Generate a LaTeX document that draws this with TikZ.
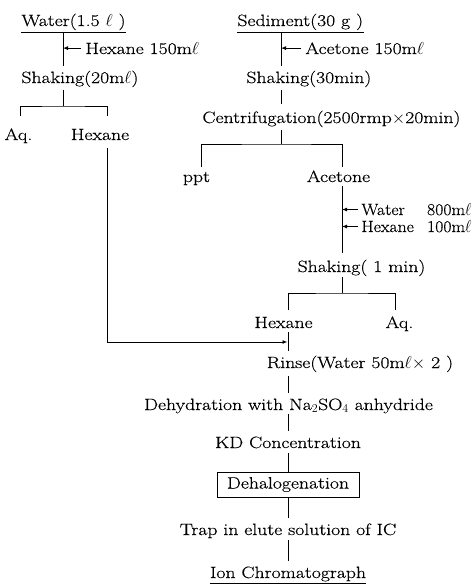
\documentclass[tikz,border=0pt]{standalone}
\usepackage{graphicx}
\usepackage{fontspec}
\setmainfont{Latin Modern Roman}[FakeStretch=1.2,FakeBold=0.4]
\usetikzlibrary{arrows.meta}
\newcommand{\narrowtext}[1]{\scalebox{0.9}[1]{#1}}
\begin{document}
\begin{tikzpicture}[x=1pt,y=-1pt,
  line width=0.9pt,
  every node/.style={inner sep=0pt,font=\fontsize{16.4}{19}\selectfont},
  lbl/.style={anchor=base west},
  ctr/.style={anchor=base},
  rgt/.style={anchor=base east},
  arr/.style={-{Latex[length=5pt,width=4pt]}},
  boxed/.style={draw,anchor=center,minimum width=142pt,minimum height=25pt}]
\useasboundingbox (0,0) rectangle (473,584);
% ---- left column
\node[lbl] (water) at (21,26) {Water(1.5 $\ell$ )};
\node[lbl] (hexA) at (85,54) {Hexane 150m$\ell$};
\node[lbl] (shakA) at (21,83) {Shaking(20m$\ell$)};
\node[ctr] (aqA) at (18.5,140) {Aq.};
\node[ctr] (hexL) at (100,140) {Hexane};
% ---- right column
\node[lbl] (sed) at (237,26) {Sediment(30 g )};
\node[lbl] (aceA) at (305,54) {Acetone 150m$\ell$};
\node[lbl] (shakB) at (246,83) {Shaking(30min)};
\node[lbl] (cent) at (202,123) {Centrifugation(2500rmp$\times$20min)};
\node[ctr] (ppt) at (196.5,182) {ppt};
\node[ctr] (acet) at (338.5,182) {Acetone};
\node[lbl] (watB) at (361,215) {\narrowtext{Water}};
\node[rgt] (wvol) at (472,215) {\narrowtext{800m$\ell$}};
\node[lbl] (hexB) at (361,232) {\narrowtext{Hexane}};
\node[rgt] (hvol) at (472,232) {\narrowtext{100m$\ell$}};
\node[ctr] (shakC) at (361.5,272) {Shaking( 1 min)};
\node[ctr] (hexR) at (283.5,328) {Hexane};
\node[ctr] (aqB) at (399.5,328) {Aq.};
% ---- main flow
\node[ctr] (rinse) at (360,368) {Rinse(Water 50m$\ell\times$ 2 )};
\node[ctr] (dehyd) at (288.5,410) {Dehydration with Na$_2$SO$_4$ anhydride};
\node[ctr] (kd) at (288,448) {KD Concentration};
\node[boxed] (dehal) at (288,484.5) {Dehalogenation};
\node[ctr] (trap) at (288,535) {Trap in elute solution of IC};
\node[ctr] (ion) at (288,578) {Ion Chromatograph};
% ---- coordinates
\coordinate (wtop) at (63,32);
\coordinate (wbot) at (63,66);
\coordinate (ls1) at (63,90);
\coordinate (lbr) at (63,106);
\coordinate (lbl1) at (20.7,116);
\coordinate (lbl2) at (107,116);
\coordinate (hlt) at (107,148);
\coordinate (jn) at (287.5,342);
\coordinate (stop) at (281,32);
\coordinate (sbot) at (281,66);
\coordinate (s2a) at (281,90);
\coordinate (s2b) at (281,104);
\coordinate (c1) at (281,130);
\coordinate (cbr) at (281,144);
\coordinate (cl) at (201,167);
\coordinate (cr) at (342,167);
\coordinate (at1) at (342,186);
\coordinate (at2) at (342,253);
\coordinate (sh1) at (342,277);
\coordinate (sbr) at (342,293);
\coordinate (hl1) at (288,310);
\coordinate (hr1) at (395,310);
\coordinate (m1) at (288,332);
\coordinate (m2) at (288,351);
\coordinate (m3) at (288,376);
\coordinate (m4) at (288,393);
\coordinate (m5) at (288,414);
\coordinate (m6) at (288,431);
\coordinate (m7) at (288,453);
\coordinate (m8) at (288,518);
\coordinate (m9) at (288,540);
\coordinate (m10) at (288,561);
% underlines
\draw ([yshift=-6pt]water.base west) -- ([yshift=-6pt]water.base east);
\draw ([yshift=-6pt]sed.base west) -- ([yshift=-6pt]sed.base east);
\draw ([yshift=-5pt]ion.base west) -- ([yshift=-5pt]ion.base east);
% left column connectors
\draw (wtop) -- (wbot);
\draw[arr] ([xshift=-4pt]hexA.west) -- (hexA.west -| wtop);
\draw (ls1) -- (lbr);
\draw (lbl1) |- (lbr) -| (lbl2);
\draw[arr] (hlt) |- (jn);
% right column connectors
\draw (stop) -- (sbot);
\draw[arr] ([xshift=-4pt]aceA.west) -- (aceA.west -| stop);
\draw (s2a) -- (s2b);
\draw (c1) -- (cbr);
\draw (cl) |- (cbr) -| (cr);
\draw (at1) -- (at2);
\draw[arr] ([xshift=-3pt]watB.west) -- (watB.west -| at1);
\draw[arr] ([xshift=-3pt]hexB.west) -- (hexB.west -| at1);
\draw (sh1) -- (sbr);
\draw (hl1) |- (sbr) -| (hr1);
\draw (m1) -- (m2);
% main flow connectors
\draw (m3) -- (m4);
\draw (m5) -- (m6);
\draw (m7) -- (dehal.north);
\draw (dehal.south) -- (m8);
\draw (m9) -- (m10);
\end{tikzpicture}
\end{document}
